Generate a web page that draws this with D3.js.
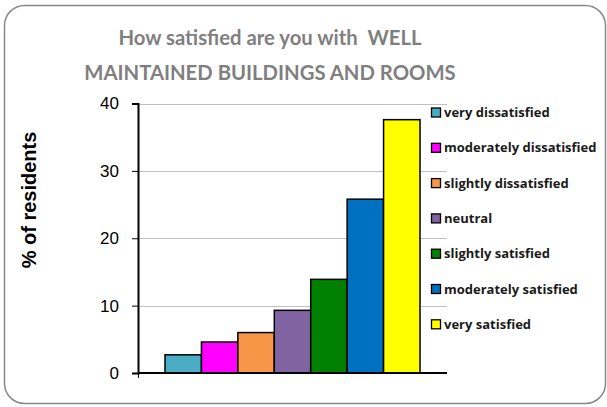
<!DOCTYPE html>
<html><head><meta charset="utf-8">
<script src="https://cdn.jsdelivr.net/npm/d3@7"></script>
<style>html,body{margin:0;padding:0;background:#fff;}svg{display:block;}</style>
</head><body>
<script>
const titleLines = ["How satisfied are you with  WELL", "MAINTAINED BUILDINGS AND ROOMS"];
const yLabel = "% of residents";
const seriesNames = ["very dissatisfied","moderately dissatisfied","slightly dissatisfied","neutral","slightly satisfied","moderately satisfied","very satisfied"];
const seriesValues = [2.7, 4.6, 6.0, 9.3, 13.9, 25.8, 37.6];
const seriesColors = ["#4BACC6","#FF00FF","#F79646","#8064A2","#008000","#0070C0","#FFFF00"];
const yTicks = [0,10,20,30,40];

const W = 607, H = 407;
const svg = d3.select("body").append("svg").attr("width", W).attr("height", H);

svg.append("rect").attr("x",4.5).attr("y",5.5).attr("width",601).attr("height",398)
  .attr("rx",20).attr("ry",20).attr("fill","#fff").attr("stroke","#888").attr("stroke-width",1.5);

const plot = {left:138, right:447, top:103.5, bottom:373};
const y = d3.scaleLinear().domain([0,40]).range([plot.bottom, plot.top]);
const x = d3.scaleBand().domain(seriesNames).range([165, 420]).paddingInner(0).paddingOuter(0);

// gridlines
svg.append("g").selectAll("line").data(yTicks.filter(d=>d>0)).join("line")
  .attr("x1",plot.left).attr("x2",plot.right)
  .attr("y1",d=>Math.round(y(d))+0.5).attr("y2",d=>Math.round(y(d))+0.5)
  .attr("stroke","#c0c0c0").attr("stroke-width",1.2);

// bars
svg.append("g").selectAll("rect").data(seriesValues).join("rect")
  .attr("x",(d,i)=>x(seriesNames[i]))
  .attr("y",d=>y(d))
  .attr("width",x.bandwidth())
  .attr("height",d=>plot.bottom-y(d))
  .attr("fill",(d,i)=>seriesColors[i])
  .attr("stroke","#000").attr("stroke-width",1.5);

// y axis
const yAxis = svg.append("g").attr("transform",`translate(${plot.left},0)`)
  .call(d3.axisLeft(y).tickValues(yTicks).tickSize(6).tickPadding(13).tickFormat(d3.format("d")));
yAxis.select(".domain").attr("stroke","#000").attr("stroke-width",2);
yAxis.selectAll(".tick line").attr("stroke","#000").attr("stroke-width",1);
yAxis.selectAll("text").attr("font-family","Liberation Sans, Arial, sans-serif").attr("font-size",17).attr("fill","#000");

// x axis
const xs = d3.scaleLinear().domain([0,1]).range([plot.left, plot.right]);
const xAxis = svg.append("g").attr("transform",`translate(0,${plot.bottom})`)
  .call(d3.axisBottom(xs).tickValues([0]).tickSize(5).tickFormat(""));
xAxis.select(".domain").attr("d",`M${plot.left},0H${plot.right}`).attr("stroke","#000").attr("stroke-width",2);
xAxis.selectAll(".tick line").attr("stroke","#000");

// y label
svg.append("text").attr("transform","translate(36,200) rotate(-90)")
  .attr("text-anchor","middle").attr("font-family","Liberation Sans, Arial, sans-serif")
  .attr("font-weight","bold").attr("font-size",20).attr("fill","#000").text(yLabel);

// title
svg.append("g").selectAll("text").data(titleLines).join("text")
  .attr("x",270).attr("y",(d,i)=>45+i*34.5)
  .attr("text-anchor","middle").attr("font-family","Lato, Open Sans, sans-serif")
  .style("white-space","pre")
  .attr("font-weight","bold").attr("font-size",20.3).attr("fill","#7f7f7f").text(d=>d);

// legend
const leg = svg.append("g").selectAll("g").data(seriesNames).join("g")
  .attr("transform",(d,i)=>`translate(431,${112.5+i*35.3})`);
leg.append("rect").attr("x",0.5).attr("y",-4.5).attr("width",9).attr("height",9)
  .attr("fill",(d,i)=>seriesColors[i]).attr("stroke","#000").attr("stroke-width",1.3);
leg.append("text").attr("x",13).attr("y",0).attr("dy","0.35em")
  .attr("font-family","Open Sans, Lato, sans-serif").attr("font-weight","bold")
  .attr("font-size",13).attr("fill","#1a1a1a").text(d=>d);
</script>
</body></html>
